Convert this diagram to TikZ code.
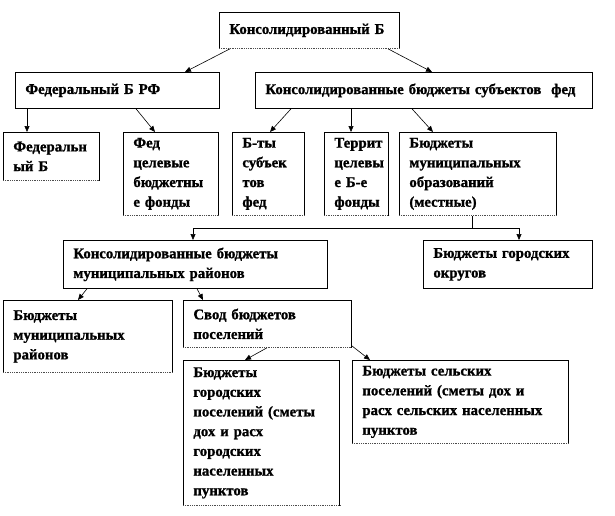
\documentclass[tikz,border=0pt]{standalone}
\usepackage{fontspec}
\setmainfont[BoldFeatures={FakeBold=1.2}]{Liberation Serif}
\usetikzlibrary{arrows.meta,calc}
\tikzset{
  box/.style={draw, line width=0.8pt, align=left, inner xsep=10pt, inner ysep=0pt,
    anchor=north west, font=\bfseries\fontsize{14.8}{19.7}\selectfont},
  arr/.style={line width=0.6pt, -{Triangle[length=6pt,width=5pt]}},
  ln/.style={line width=0.6pt},
}
\begin{document}
\begin{tikzpicture}[x=1pt,y=-1pt]
\useasboundingbox (0,0) rectangle (615,516);
% boxes
\node[box, minimum width=180pt, minimum height=36pt, text width=160pt] (top) at (219,12) {Консолидированный Б};
\node[box, minimum width=204pt, minimum height=36pt, text width=184pt] (fedrf) at (15,72) {Федеральный Б РФ};
\node[box, minimum width=337pt, minimum height=36pt, text width=317pt] (subj) at (255,72) {Консолидированные бюджеты субъектов~~фед};
\node[box, minimum width=96pt, minimum height=48pt, text width=76pt] (fedb) at (3,132) {Федеральн\\ый Б};
\node[box, minimum width=95pt, minimum height=83pt, text width=75pt] (fedfond) at (123,132) {Фед\\целевые\\бюджетны\\е фонды};
\node[box, minimum width=72pt, minimum height=83pt, text width=52pt] (bty) at (232,132) {Б-ты\\субъек\\тов\\фед};
\node[box, minimum width=64pt, minimum height=83pt, text width=44pt] (terr) at (324,132) {Террит\\целевы\\е Б-е\\фонды};
\node[box, minimum width=157pt, minimum height=83pt, text width=137pt] (mun) at (399,132) {Бюджеты\\муниципальных\\образований\\(местные)};
\node[box, minimum width=264pt, minimum height=48pt, text width=244pt] (consmun) at (63,240) {Консолидированные бюджеты\\муниципальных районов};
\node[box, minimum width=169pt, minimum height=48pt, text width=149pt] (gorokr) at (423,240) {Бюджеты городских\\округов};
\node[box, minimum width=169pt, minimum height=72pt, text width=149pt] (munr) at (3,300) {Бюджеты\\муниципальных\\районов};
\node[box, minimum width=168pt, minimum height=47pt, text width=148pt] (svod) at (183,300) {Свод бюджетов\\поселений};
\node[box, minimum width=156pt, minimum height=145pt, text width=136pt] (gorpos) at (183,360) {Бюджеты\\городских\\поселений (сметы\\дох и расх\\городских\\населенных\\пунктов};
\node[box, minimum width=216pt, minimum height=83pt, text width=196pt] (selpos) at (352,360) {Бюджеты сельских\\поселений (сметы дох и\\расх сельских населенных\\пунктов};
% dotted bottoms
\foreach \n in {top,fedb,fedfond,bty,terr,mun,munr,svod,gorpos,selpos}{
  \draw[white, line width=1.2pt] ($(\n.south west)+(1,0)$) -- ($(\n.south east)+(-1,0)$);
  \draw[line width=0.8pt, densely dotted, black!70] (\n.south west) -- (\n.south east);
}
% connectors
\draw[arr] ($(top.south west)+(11,0)$) -- ($(fedrf.north west)+(170,0)$);
\draw[arr] ($(top.south west)+(169,0)$) -- ($(subj.north west)+(177,0)$);
\draw[arr] ($(fedrf.south west)+(12,0)$) -- ($(fedb.north west)+(24,0)$);
\draw[arr] ($(fedrf.south west)+(121,0)$) -- ($(fedfond.north west)+(32,0)$);
\draw[arr] ($(subj.south west)+(36,0)$) -- ($(bty.north west)+(38,0)$);
\draw[arr] ($(subj.south west)+(96,0)$) -- ($(terr.north west)+(27,0)$);
\draw[arr] ($(subj.south west)+(157,0)$) -- ($(mun.north west)+(34,0)$);
\coordinate (j) at ($(mun.south west)+(73,13)$);
\coordinate (jl) at ($(consmun.north west)+(130,-12)$);
\coordinate (jr) at ($(gorokr.north west)+(96,-12)$);
\draw[ln] ($(mun.south west)+(73,0)$) -- (j);
\draw[ln] (jl) -- (jr);
\draw[arr] (jl) -- ($(consmun.north west)+(130,0)$);
\draw[arr] (jr) -- ($(gorokr.north west)+(96,0)$);
\draw[arr] ($(consmun.south west)+(24,0)$) -- ($(munr.north west)+(75,0)$);
\draw[arr] ($(consmun.south west)+(134,0)$) -- ($(svod.north west)+(20,0)$);
\draw[arr] ($(svod.south west)+(84,0)$) -- ($(gorpos.north west)+(62,0)$);
\draw[arr] ($(svod.south east)+(0,-2)$) -- ($(selpos.north west)+(18,0)$);
\end{tikzpicture}
\end{document}
